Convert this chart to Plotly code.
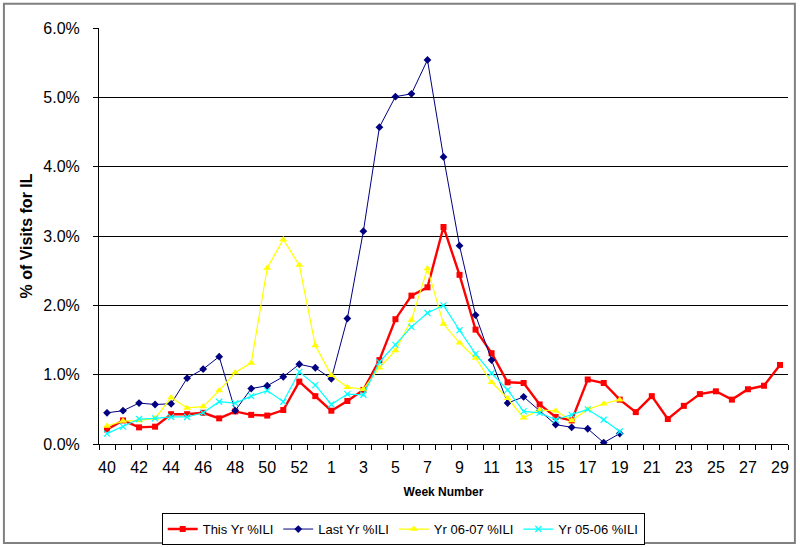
import plotly.graph_objects as go

weeks = ["40", "41", "42", "43", "44", "45", "46", "47", "48", "49", "50", "51", "52", "53",
         "1", "2", "3", "4", "5", "6", "7", "8", "9", "10", "11", "12", "13", "14", "15",
         "16", "17", "18", "19", "20", "21", "22", "23", "24", "25", "26", "27", "28", "29"]

this_yr = [0.21, 0.34, 0.24, 0.25, 0.43, 0.43, 0.45, 0.37, 0.47, 0.42, 0.41, 0.49, 0.90, 0.69,
           0.48, 0.62, 0.78, 1.21, 1.80, 2.14, 2.26, 3.13, 2.44, 1.65, 1.31, 0.89, 0.88, 0.57,
           0.39, 0.34, 0.93, 0.88, 0.64, 0.46, 0.69, 0.36, 0.55, 0.72, 0.76, 0.64, 0.79, 0.84, 1.14]

last_yr = [0.45, 0.48, 0.59, 0.57, 0.58, 0.95, 1.08, 1.26, 0.48, 0.80, 0.84, 0.97, 1.15, 1.10,
           0.94, 1.81, 3.07, 4.57, 5.01, 5.05, 5.54, 4.14, 2.86, 1.86, 1.21, 0.59, 0.68, 0.48,
           0.28, 0.24, 0.22, 0.02, 0.15]

yr_0607 = [0.26, 0.33, 0.34, 0.37, 0.67, 0.52, 0.54, 0.77, 1.03, 1.17, 2.54, 2.95, 2.58, 1.42,
           0.99, 0.82, 0.79, 1.10, 1.35, 1.79, 2.53, 1.73, 1.46, 1.24, 0.89, 0.66, 0.38, 0.49,
           0.48, 0.34, 0.50, 0.58, 0.64]

yr_0506 = [0.15, 0.25, 0.36, 0.37, 0.39, 0.39, 0.45, 0.61, 0.59, 0.69, 0.77, 0.61, 1.04, 0.85,
           0.57, 0.72, 0.71, 1.18, 1.43, 1.69, 1.89, 2.00, 1.64, 1.30, 1.02, 0.78, 0.47, 0.45,
           0.35, 0.42, 0.50, 0.35, 0.18]

tick_text = [w if i % 2 == 0 else "" for i, w in enumerate(weeks)]

FONT = "Liberation Sans, Arial, sans-serif"

fig = go.Figure()
fig.add_trace(go.Scatter(
    x=weeks[:len(this_yr)], y=this_yr, name="This Yr %ILI", mode="lines+markers",
    line=dict(color="#FF0000", width=2.4),
    marker=dict(symbol="square", size=6, color="#FF0000")))
fig.add_trace(go.Scatter(
    x=weeks[:len(last_yr)], y=last_yr, name="Last Yr %ILI", mode="lines+markers",
    line=dict(color="#000080", width=1),
    marker=dict(symbol="diamond", size=6, color="#000080")))
fig.add_trace(go.Scatter(
    x=weeks[:len(yr_0607)], y=yr_0607, name="Yr 06-07 %ILI", mode="lines+markers",
    line=dict(color="#FFFF00", width=1.2),
    marker=dict(symbol="triangle-up", size=7, color="#FFFF00")))
fig.add_trace(go.Scatter(
    x=weeks[:len(yr_0506)], y=yr_0506, name="Yr 05-06 %ILI", mode="lines+markers",
    line=dict(color="#00FFFF", width=1.2),
    marker=dict(symbol="x-thin-open", size=6, color="#00FFFF", line=dict(width=1.2, color="#00FFFF"))))

fig.update_layout(
    width=800, height=547,
    margin=dict(l=99, r=12, t=28, b=103, autoexpand=False),
    paper_bgcolor="white", plot_bgcolor="white",
    font=dict(family=FONT, size=13, color="black"),
    showlegend=True,
    legend=dict(orientation="h", xref="container", yref="container",
                x=0.504, xanchor="center", y=0.062, yanchor="top",
                bordercolor="black", borderwidth=1, font=dict(size=13),
                itemwidth=30, tracegroupgap=0),
    xaxis=dict(type="category", categoryorder="array", categoryarray=weeks,
               tickmode="array", tickvals=weeks, ticktext=tick_text, tickangle=0,
               tickson="boundaries", ticks="outside", ticklen=5, tickcolor="black",
               ticklabelstandoff=9,
               showline=True, linecolor="black", linewidth=1, showgrid=False,
               range=[-0.5, len(weeks) - 0.5], tickfont=dict(size=16),
               automargin=False,
               title=dict(text="<b>Week Number</b>", font=dict(size=12), standoff=12)),
    yaxis=dict(range=[0, 6], dtick=1, tick0=0, tickformat=".1f", ticksuffix="%",
               ticks="outside", ticklen=5, tickcolor="black",
               ticklabelstandoff=10,
               showline=True, linecolor="black", linewidth=1,
               showgrid=True, gridcolor="black", gridwidth=1, zeroline=False,
               tickfont=dict(size=16), automargin=False,
               title=dict(text="<b>% of Visits for IL</b>", font=dict(size=16), standoff=6)),
    shapes=[dict(type="rect", xref="paper", yref="paper",
                 x0=-0.138, x1=1.010, y0=-0.238, y1=1.058,
                 line=dict(color="#808080", width=2), fillcolor="rgba(0,0,0,0)", layer="below")],
)

fig.write_html("out.html", config={"displayModeBar": False},
               post_script="document.body.style.margin='0';document.body.style.overflow='hidden';")
